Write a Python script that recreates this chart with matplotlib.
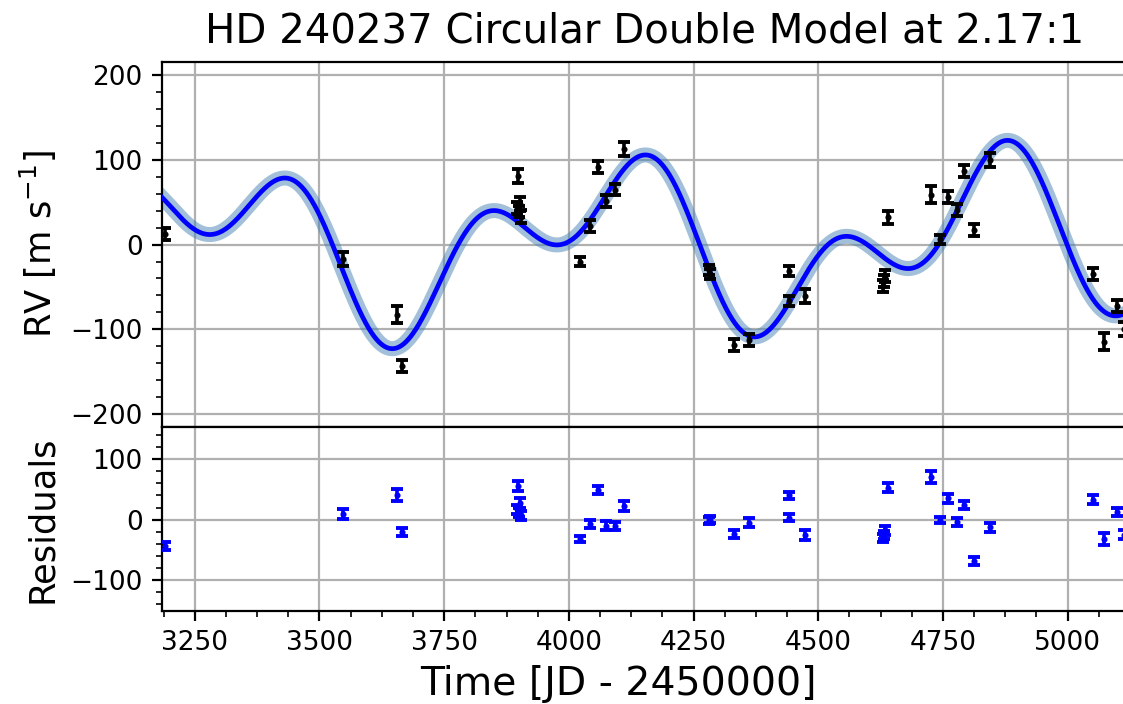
import numpy as np
import matplotlib
matplotlib.use("Agg")
import matplotlib.pyplot as plt
from matplotlib.ticker import MultipleLocator, AutoMinorLocator

# observation times [JD - 2450000]
time = [3191, 3546.5, 3655.6, 3665.6,
        3896, 3899, 3901, 3903, 3905,
        4023, 4041.7, 4057.8, 4075, 4093, 4111,
        4280, 4282, 4332, 4360.5, 4440.7, 4442, 4474,
        4629, 4631, 4634, 4640,
        4726, 4745, 4759.5, 4778, 4791.5, 4813, 4845,
        5050, 5073.6, 5099, 5113]

# radial velocities [m/s]
rv = [12, -17, -83, -143,
      43, 81, 39, 48, 33,
      -20, 22, 92, 51, 65, 113,
      -30, -35, -119, -113, -31, -67, -61,
      -49, -43, -37, 32,
      59, 6, 56, 41, 87, 17, 100,
      -35, -115, -73, -100]

# 1-sigma errors [m/s]
rv_err = [7, 8.5, 10, 7,
          7, 8, 7, 8, 8,
          5, 7, 7, 7, 7, 8,
          6, 6, 7, 7, 6, 6, 8,
          7, 7, 7, 8,
          10, 5, 7, 7, 7, 7, 8,
          7, 10, 7, 8]

# residuals after subtracting the two-planet fit [m/s]
resid = [-44, 9, 41, -21,
         17, 56, 12, 27, 7,
         -33, -7, 49, -10, -11, 23,
         -1, 0, -24, -5, 40, 3, -26,
         -31, -26, -18, 53,
         70, 0, 35, -4, 24, -69, -13,
         33, -33, 13, -25]

# circular double model, periods in 2.17:1
gamma = 1.36
P1, K1, T1 = 775.5, 68.55, 3868.2
P2, K2, T2 = 775.5 / 2.17, 58.0, 3728.3

tt = np.linspace(3184.4, 5118.4, 2000)
model = (gamma + K1 * np.sin(2 * np.pi * (tt - T1) / P1)
         + K2 * np.sin(2 * np.pi * (tt - T2) / P2))

fig = plt.figure(figsize=(5.615, 3.52), dpi=200)
ax1 = fig.add_axes([0.1443, 0.3928, 0.8590, 0.5196])
ax2 = fig.add_axes([0.1443, 0.1321, 0.8590, 0.2607], sharex=ax1)

ax1.plot(tt, model, color="steelblue", alpha=0.5, lw=5.4, zorder=2)
ax1.plot(tt, model, color="blue", lw=1.7, zorder=3)
ax1.errorbar(time, rv, yerr=rv_err, fmt="o", color="black", ms=1.2,
             elinewidth=1.3, capsize=2.2, capthick=1.4, zorder=4)

ax2.errorbar(time, resid, yerr=rv_err, fmt="o", color="blue", ms=1.2,
             elinewidth=1.3, capsize=2.2, capthick=1.4, zorder=4)

ax1.set_xlim(3184.4, 5118.4)
ax1.set_ylim(-216, 216)
ax2.set_ylim(-152, 153)

ax1.yaxis.set_major_locator(MultipleLocator(100))
ax1.yaxis.set_minor_locator(AutoMinorLocator(5))
ax2.yaxis.set_major_locator(MultipleLocator(100))
ax2.yaxis.set_minor_locator(AutoMinorLocator(5))
ax2.xaxis.set_major_locator(MultipleLocator(250))
ax2.xaxis.set_minor_locator(AutoMinorLocator(4))

ax1.tick_params(axis="x", which="both", bottom=False, labelbottom=False)
for ax in (ax1, ax2):
    ax.grid(True, which="major", color="#b0b0b0", lw=0.8)
    ax.set_axisbelow(True)
    ax.tick_params(labelsize=9.5)
    ax.spines["right"].set_visible(False)

ax1.set_title("HD 240237 Circular Double Model at 2.17:1", fontsize=14.5, pad=7)
ax1.set_ylabel(r"RV [m s$^{-1}$]", fontsize=12.7)
ax2.set_ylabel("Residuals", fontsize=12.7)
ax2.set_xlabel("Time [JD - 2450000]", fontsize=14.2)
ax2.xaxis.set_label_coords(0.473, -0.295)
fig.align_ylabels([ax1, ax2])

fig.savefig("out.png", dpi=200)
